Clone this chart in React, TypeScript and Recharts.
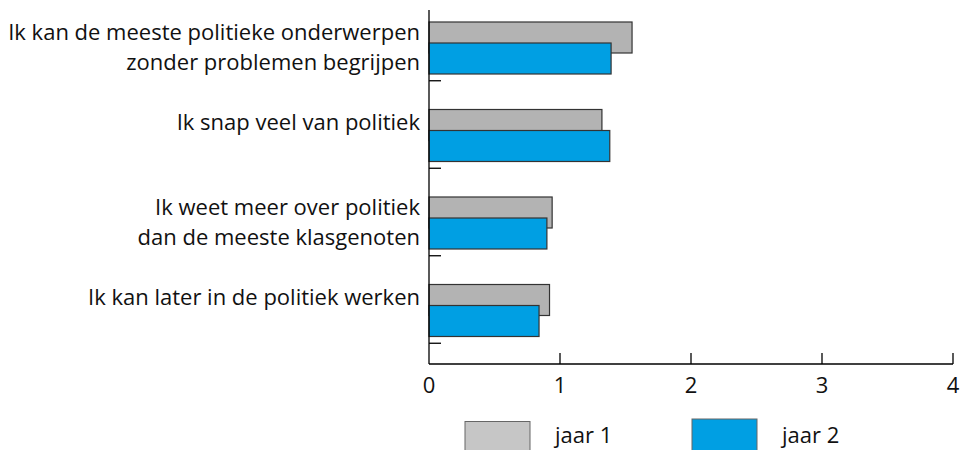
import React from 'react';
import { BarChart, Bar, XAxis, YAxis } from 'recharts';

const categories = [
  'Ik kan de meeste politieke onderwerpen\nzonder problemen begrijpen',
  'Ik snap veel van politiek',
  'Ik weet meer over politiek\ndan de meeste klasgenoten',
  'Ik kan later in de politiek werken',
];
const jaar1 = [1.55, 1.32, 0.94, 0.92];
const jaar2 = [1.39, 1.38, 0.9, 0.84];
const xTicks = [0, 1, 2, 3, 4];
const seriesNames = ['jaar 1', 'jaar 2'];

const GRAY = '#b3b3b3';
const BLUE = '#009fe3';
const FONT = '"Open Sans", sans-serif';
const FS = 22;

const data = categories.map((c, i) => ({ name: c, j1: jaar1[i], j2: jaar2[i] }));

// bars sit a bit above the band centre in the original
const ShiftedBar = (props: any) => {
  const { x, y, width, height, fill } = props;
  return (
    <rect
      x={x}
      y={y - 6}
      width={width}
      height={height}
      fill={fill}
      stroke="#333"
      strokeWidth={1.2}
    />
  );
};

const CategoryTick = (props: any) => {
  const { x, y, payload } = props;
  const lines = String(payload.value).split('\n');
  const first = lines.length > 1 ? -14 : -11;
  return (
    <g>
      <line x1={x} x2={x + 12} y1={y + 27} y2={y + 27} stroke="#000" strokeWidth={1.3} />
      {lines.map((l, i) => (
        <text
          key={i}
          x={x - 9}
          y={y + first + i * 30}
          textAnchor="end"
          fontFamily={FONT}
          fontSize={FS}
          fill="#111"
        >
          {l}
        </text>
      ))}
    </g>
  );
};

const ValueTick = (props: any) => {
  const { x, y, payload } = props;
  return (
    <g>
      {payload.value !== 0 && (
        <line x1={x} x2={x} y1={y} y2={y - 11} stroke="#000" strokeWidth={1.3} />
      )}
      <text x={x} y={y + 29} textAnchor="middle" fontFamily={FONT} fontSize={FS} fill="#111">
        {payload.value}
      </text>
    </g>
  );
};

function Legend() {
  const swatches = [
    { x: 465, y: 421.5, fill: '#c6c6c6', tx: 555 },
    { x: 692, y: 419, fill: BLUE, tx: 782 },
  ];
  return (
    <svg width={960} height={450} style={{ position: 'absolute', left: 0, top: 0, pointerEvents: 'none' }}>
      {seriesNames.map((n, i) => (
        <g key={n}>
          <rect x={swatches[i].x} y={swatches[i].y} width={65} height={34} fill={swatches[i].fill} stroke="#666" strokeWidth={1} />
          <text x={swatches[i].tx} y={443} fontFamily={FONT} fontSize={FS} fill="#111">
            {n}
          </text>
        </g>
      ))}
    </svg>
  );
}

export default function App() {
  return (
    <div style={{ position: 'absolute', left: 0, top: 0, width: 960, height: 450, overflow: 'hidden', background: '#fff' }}>
      <BarChart
        width={960}
        height={450}
        data={data}
        layout="vertical"
        margin={{ top: 10, right: 7, bottom: 56, left: 0 }}
        barSize={31}
        barGap={-10}
      >
        <XAxis
          type="number"
          domain={[0, 4]}
          ticks={xTicks}
          height={30}
          axisLine={{ stroke: '#000', strokeWidth: 1.3 }}
          tickLine={false}
          tickSize={0}
          tickMargin={0}
          tick={<ValueTick />}
          interval={0}
        />
        <YAxis
          type="category"
          dataKey="name"
          width={429}
          padding={{ top: 0, bottom: 4 }}
          axisLine={{ stroke: '#000', strokeWidth: 1.3 }}
          tickLine={false}
          tickSize={0}
          tickMargin={0}
          tick={<CategoryTick />}
          interval={0}
        />
        <Bar dataKey="j1" name={seriesNames[0]} fill={GRAY} shape={<ShiftedBar />} isAnimationActive={false} />
        <Bar dataKey="j2" name={seriesNames[1]} fill={BLUE} shape={<ShiftedBar />} isAnimationActive={false} />
      </BarChart>
      <Legend />
    </div>
  );
}
